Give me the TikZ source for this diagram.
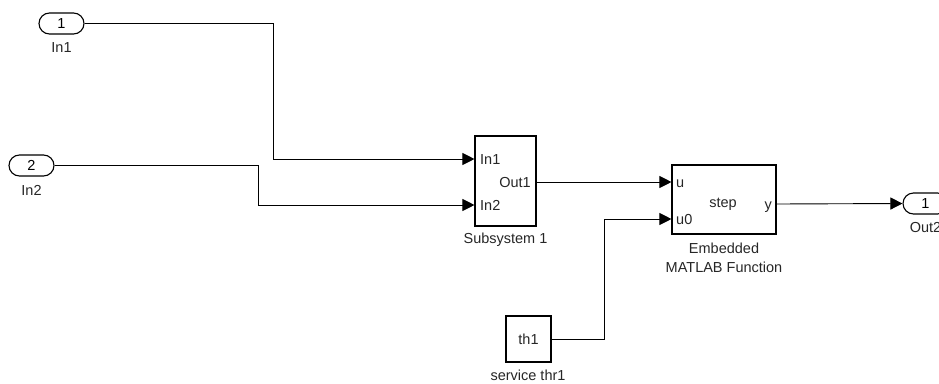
\documentclass[tikz,border=0pt]{standalone}
\usepackage{fontspec}
\setmainfont{Liberation Sans}
\usetikzlibrary{arrows.meta}
\begin{document}
\begin{tikzpicture}[x=1pt,y=-1pt,
  wire/.style={line width=0.9pt,draw=black},
  sig/.style={wire,-{Triangle[length=12pt,width=12pt]}},
  lbl/.style={inner sep=0pt,text height=10.5pt,text depth=0pt,
    font=\fontsize{14.5}{17}\selectfont,text=black!85},
  port/.style={draw,line width=1.1pt,rounded corners=10.5pt,
    minimum width=45pt,minimum height=21pt,inner sep=0pt,
    font=\fontsize{14.5}{17}\selectfont},
  blockbox/.style={draw,line width=1.1pt,inner sep=0pt}]
\useasboundingbox (0,0) rectangle (939,383);

% inports and outport
\node[port] (in1) at (61.5,23.5) {1};
\node[lbl] (in1lbl) at (61.5,47) {In1};
\node[port] (in2) at (31.5,165.5) {2};
\node[port] (out2) at (925.5,203.5) {1};
\node[lbl] (in2lbl) at (31.5,190) {In2};
\node[lbl] (out2lbl) at (925.5,227) {Out2};

% Subsystem 1
\node[blockbox,minimum width=61pt,minimum height=90pt] (sub) at (505.5,181) {};
\node[lbl,anchor=west] (subin1) at (480,159) {In1};
\node[lbl,anchor=west] (subin2) at (480,205) {In2};
\node[lbl,anchor=east] (subout) at (531,182) {Out1};
\node[lbl] (sublbl) at (505.5,238) {Subsystem 1};
\coordinate (s-in1) at (sub.west |- 0,159);
\coordinate (s-in2) at (sub.west |- 0,205);
\coordinate (s-out) at (sub.east |- 0,182);

% Embedded MATLAB Function
\node[blockbox,minimum width=104pt,minimum height=69pt] (emf) at (724,199.5) {};
\node[lbl] (emfname) at (723,202) {step};
\node[lbl,anchor=west] (emfu) at (676,182) {u};
\node[lbl,anchor=west] (emfu0) at (676,219) {u0};
\node[lbl,anchor=east] (emfy) at (772,204) {y};
\node[lbl] (emflbl1) at (724,248) {Embedded};
\node[lbl] (emflbl2) at (724,267) {MATLAB Function};
\coordinate (e-u) at (emf.west |- 0,182);
\coordinate (e-u0) at (emf.west |- 0,219);
\coordinate (e-y) at (emf.east |- 0,204);

% service thr1
\node[blockbox,minimum width=45pt,minimum height=46pt] (th) at (528.5,339) {};
\node[lbl] (thtxt) at (528.5,339) {th1};
\node[lbl] (thlbl) at (528,375) {service thr1};

% connectors
\coordinate (k1) at (273,23.5);
\coordinate (k2) at (258,165.5);
\coordinate (k3) at (604,339);
\draw[sig] (in1.east) -- (k1) |- (s-in1);
\draw[sig] (in2.east) -- (k2) |- (s-in2);
\draw[sig] (s-out) -- (e-u);
\draw[sig] (th.east) -- (k3) |- (e-u0);
\draw[sig] (e-y) -- (out2.west);
\end{tikzpicture}
\end{document}
